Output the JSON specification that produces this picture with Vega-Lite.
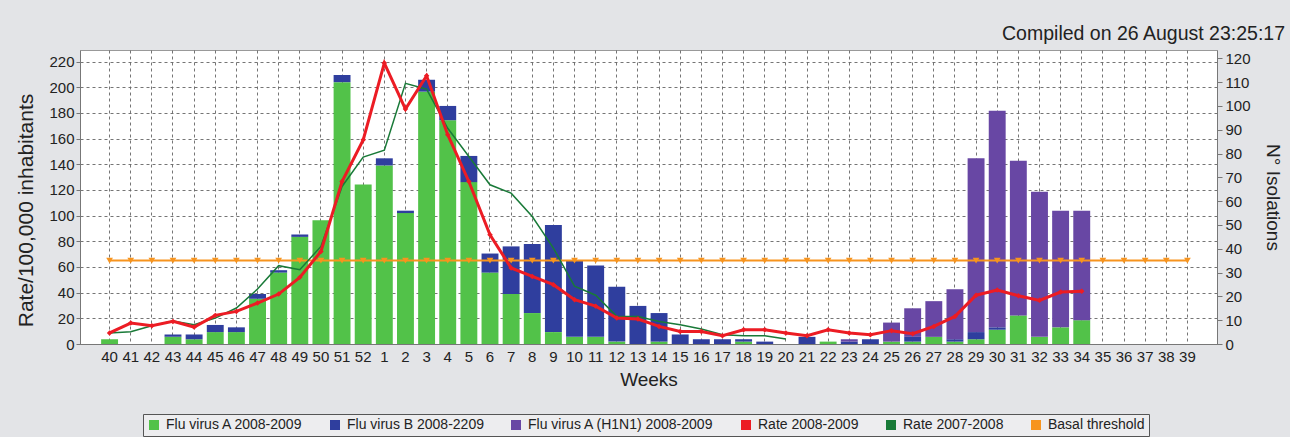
{
  "$schema": "https://vega.github.io/schema/vega-lite/v6.json",
  "width": 1137,
  "height": 294,
  "autosize": {"type": "none"},
  "padding": {"left": 80, "top": 50, "right": 73, "bottom": 93},
  "background": "#e3e4e7",
  "title": {"text": "Compiled on 26 August 23:25:17", "anchor": "end", "frame": "group", "dx": 68, "offset": 6, "fontSize": 19.5, "font": "Liberation Sans", "fontWeight": "normal", "color": "#222222"},
  "config": {
    "view": {"fill": "white", "stroke": "#999999"},
    "font": "Liberation Sans",
    "axis": {"labelFont": "Liberation Sans", "titleFont": "Liberation Sans", "labelFontSize": 15, "titleFontSize": 19, "titleFontWeight": "normal", "labelColor": "#222222", "titleColor": "#222222", "domainColor": "#777777", "tickColor": "#777777"}
  },
  "datasets": {
    "bars": [
      {"week": "40", "series": "Flu virus A 2008-2009", "isolations": 2},
      {"week": "43", "series": "Flu virus A 2008-2009", "isolations": 3},
      {"week": "43", "series": "Flu virus B 2008-2209", "isolations": 1},
      {"week": "44", "series": "Flu virus A 2008-2009", "isolations": 2},
      {"week": "44", "series": "Flu virus B 2008-2209", "isolations": 2},
      {"week": "45", "series": "Flu virus A 2008-2009", "isolations": 5},
      {"week": "45", "series": "Flu virus B 2008-2209", "isolations": 3},
      {"week": "46", "series": "Flu virus A 2008-2009", "isolations": 5},
      {"week": "46", "series": "Flu virus B 2008-2209", "isolations": 2},
      {"week": "47", "series": "Flu virus A 2008-2009", "isolations": 19},
      {"week": "47", "series": "Flu virus B 2008-2209", "isolations": 2},
      {"week": "48", "series": "Flu virus A 2008-2009", "isolations": 30},
      {"week": "48", "series": "Flu virus B 2008-2209", "isolations": 1},
      {"week": "49", "series": "Flu virus A 2008-2009", "isolations": 45},
      {"week": "49", "series": "Flu virus B 2008-2209", "isolations": 1},
      {"week": "50", "series": "Flu virus A 2008-2009", "isolations": 52},
      {"week": "51", "series": "Flu virus A 2008-2009", "isolations": 110},
      {"week": "51", "series": "Flu virus B 2008-2209", "isolations": 3},
      {"week": "52", "series": "Flu virus A 2008-2009", "isolations": 67},
      {"week": "1", "series": "Flu virus A 2008-2009", "isolations": 75},
      {"week": "1", "series": "Flu virus B 2008-2209", "isolations": 3},
      {"week": "2", "series": "Flu virus A 2008-2009", "isolations": 55},
      {"week": "2", "series": "Flu virus B 2008-2209", "isolations": 1},
      {"week": "3", "series": "Flu virus A 2008-2009", "isolations": 106},
      {"week": "3", "series": "Flu virus B 2008-2209", "isolations": 5},
      {"week": "4", "series": "Flu virus A 2008-2009", "isolations": 94},
      {"week": "4", "series": "Flu virus B 2008-2209", "isolations": 6},
      {"week": "5", "series": "Flu virus A 2008-2009", "isolations": 68},
      {"week": "5", "series": "Flu virus B 2008-2209", "isolations": 11},
      {"week": "6", "series": "Flu virus A 2008-2009", "isolations": 30},
      {"week": "6", "series": "Flu virus B 2008-2209", "isolations": 8},
      {"week": "7", "series": "Flu virus A 2008-2009", "isolations": 21},
      {"week": "7", "series": "Flu virus B 2008-2209", "isolations": 20},
      {"week": "8", "series": "Flu virus A 2008-2009", "isolations": 13},
      {"week": "8", "series": "Flu virus B 2008-2209", "isolations": 29},
      {"week": "9", "series": "Flu virus A 2008-2009", "isolations": 5},
      {"week": "9", "series": "Flu virus B 2008-2209", "isolations": 45},
      {"week": "10", "series": "Flu virus A 2008-2009", "isolations": 3},
      {"week": "10", "series": "Flu virus B 2008-2209", "isolations": 32},
      {"week": "11", "series": "Flu virus A 2008-2009", "isolations": 3},
      {"week": "11", "series": "Flu virus B 2008-2209", "isolations": 30},
      {"week": "12", "series": "Flu virus A 2008-2009", "isolations": 1},
      {"week": "12", "series": "Flu virus B 2008-2209", "isolations": 23},
      {"week": "13", "series": "Flu virus B 2008-2209", "isolations": 16},
      {"week": "14", "series": "Flu virus A 2008-2009", "isolations": 1},
      {"week": "14", "series": "Flu virus B 2008-2209", "isolations": 12},
      {"week": "15", "series": "Flu virus B 2008-2209", "isolations": 4},
      {"week": "16", "series": "Flu virus B 2008-2209", "isolations": 2},
      {"week": "17", "series": "Flu virus B 2008-2209", "isolations": 2},
      {"week": "18", "series": "Flu virus A 2008-2009", "isolations": 1},
      {"week": "18", "series": "Flu virus B 2008-2209", "isolations": 1},
      {"week": "19", "series": "Flu virus B 2008-2209", "isolations": 1},
      {"week": "21", "series": "Flu virus B 2008-2209", "isolations": 3},
      {"week": "22", "series": "Flu virus A 2008-2009", "isolations": 1},
      {"week": "23", "series": "Flu virus B 2008-2209", "isolations": 1},
      {"week": "23", "series": "Flu virus A (H1N1) 2008-2009", "isolations": 1},
      {"week": "24", "series": "Flu virus B 2008-2209", "isolations": 2},
      {"week": "25", "series": "Flu virus A 2008-2009", "isolations": 1},
      {"week": "25", "series": "Flu virus A (H1N1) 2008-2009", "isolations": 8},
      {"week": "26", "series": "Flu virus A 2008-2009", "isolations": 1},
      {"week": "26", "series": "Flu virus B 2008-2209", "isolations": 2},
      {"week": "26", "series": "Flu virus A (H1N1) 2008-2009", "isolations": 12},
      {"week": "27", "series": "Flu virus A 2008-2009", "isolations": 3},
      {"week": "27", "series": "Flu virus A (H1N1) 2008-2009", "isolations": 15},
      {"week": "28", "series": "Flu virus A 2008-2009", "isolations": 1},
      {"week": "28", "series": "Flu virus B 2008-2209", "isolations": 1},
      {"week": "28", "series": "Flu virus A (H1N1) 2008-2009", "isolations": 21},
      {"week": "29", "series": "Flu virus A 2008-2009", "isolations": 2},
      {"week": "29", "series": "Flu virus B 2008-2209", "isolations": 3},
      {"week": "29", "series": "Flu virus A (H1N1) 2008-2009", "isolations": 73},
      {"week": "30", "series": "Flu virus A 2008-2009", "isolations": 6},
      {"week": "30", "series": "Flu virus B 2008-2209", "isolations": 1},
      {"week": "30", "series": "Flu virus A (H1N1) 2008-2009", "isolations": 91},
      {"week": "31", "series": "Flu virus A 2008-2009", "isolations": 12},
      {"week": "31", "series": "Flu virus A (H1N1) 2008-2009", "isolations": 65},
      {"week": "32", "series": "Flu virus A 2008-2009", "isolations": 3},
      {"week": "32", "series": "Flu virus A (H1N1) 2008-2009", "isolations": 61},
      {"week": "33", "series": "Flu virus A 2008-2009", "isolations": 7},
      {"week": "33", "series": "Flu virus A (H1N1) 2008-2009", "isolations": 49},
      {"week": "34", "series": "Flu virus A 2008-2009", "isolations": 10},
      {"week": "34", "series": "Flu virus A (H1N1) 2008-2009", "isolations": 46}
    ],
    "rate0809": [
      {"week": "40", "series": "Rate 2008-2009", "rate": 8.6},
      {"week": "41", "series": "Rate 2008-2009", "rate": 16.3},
      {"week": "42", "series": "Rate 2008-2009", "rate": 14.2},
      {"week": "43", "series": "Rate 2008-2009", "rate": 17.6},
      {"week": "44", "series": "Rate 2008-2009", "rate": 13.2},
      {"week": "45", "series": "Rate 2008-2009", "rate": 22.3},
      {"week": "46", "series": "Rate 2008-2009", "rate": 25.4},
      {"week": "47", "series": "Rate 2008-2009", "rate": 31.9},
      {"week": "48", "series": "Rate 2008-2009", "rate": 38.9},
      {"week": "49", "series": "Rate 2008-2009", "rate": 51.9},
      {"week": "50", "series": "Rate 2008-2009", "rate": 72.1},
      {"week": "51", "series": "Rate 2008-2009", "rate": 126.6},
      {"week": "52", "series": "Rate 2008-2009", "rate": 159},
      {"week": "1", "series": "Rate 2008-2009", "rate": 218.8},
      {"week": "2", "series": "Rate 2008-2009", "rate": 183},
      {"week": "3", "series": "Rate 2008-2009", "rate": 208.9},
      {"week": "4", "series": "Rate 2008-2009", "rate": 163},
      {"week": "5", "series": "Rate 2008-2009", "rate": 126.6},
      {"week": "6", "series": "Rate 2008-2009", "rate": 85.1},
      {"week": "7", "series": "Rate 2008-2009", "rate": 59.2},
      {"week": "8", "series": "Rate 2008-2009", "rate": 52.6},
      {"week": "9", "series": "Rate 2008-2009", "rate": 46.2},
      {"week": "10", "series": "Rate 2008-2009", "rate": 34.5},
      {"week": "11", "series": "Rate 2008-2009", "rate": 29.5},
      {"week": "12", "series": "Rate 2008-2009", "rate": 20.2},
      {"week": "13", "series": "Rate 2008-2009", "rate": 19.5},
      {"week": "14", "series": "Rate 2008-2009", "rate": 13.7},
      {"week": "15", "series": "Rate 2008-2009", "rate": 9.8},
      {"week": "16", "series": "Rate 2008-2009", "rate": 9.8},
      {"week": "17", "series": "Rate 2008-2009", "rate": 6.5},
      {"week": "18", "series": "Rate 2008-2009", "rate": 11.1},
      {"week": "19", "series": "Rate 2008-2009", "rate": 11.1},
      {"week": "20", "series": "Rate 2008-2009", "rate": 8.6},
      {"week": "21", "series": "Rate 2008-2009", "rate": 6.5},
      {"week": "22", "series": "Rate 2008-2009", "rate": 11.1},
      {"week": "23", "series": "Rate 2008-2009", "rate": 8.6},
      {"week": "24", "series": "Rate 2008-2009", "rate": 7.2},
      {"week": "25", "series": "Rate 2008-2009", "rate": 10.4},
      {"week": "26", "series": "Rate 2008-2009", "rate": 8.0},
      {"week": "27", "series": "Rate 2008-2009", "rate": 13.7},
      {"week": "28", "series": "Rate 2008-2009", "rate": 21.5},
      {"week": "29", "series": "Rate 2008-2009", "rate": 38},
      {"week": "30", "series": "Rate 2008-2009", "rate": 42},
      {"week": "31", "series": "Rate 2008-2009", "rate": 37.6},
      {"week": "32", "series": "Rate 2008-2009", "rate": 34},
      {"week": "33", "series": "Rate 2008-2009", "rate": 40.5},
      {"week": "34", "series": "Rate 2008-2009", "rate": 41}
    ],
    "rate0708": [
      {"week": "40", "series": "Rate 2007-2008", "rate": 8.6},
      {"week": "41", "series": "Rate 2007-2008", "rate": 9.5},
      {"week": "42", "series": "Rate 2007-2008", "rate": 14.2},
      {"week": "43", "series": "Rate 2007-2008", "rate": 18},
      {"week": "44", "series": "Rate 2007-2008", "rate": 15},
      {"week": "45", "series": "Rate 2007-2008", "rate": 20.2},
      {"week": "46", "series": "Rate 2007-2008", "rate": 28},
      {"week": "47", "series": "Rate 2007-2008", "rate": 42.8},
      {"week": "48", "series": "Rate 2007-2008", "rate": 61},
      {"week": "49", "series": "Rate 2007-2008", "rate": 57.8},
      {"week": "50", "series": "Rate 2007-2008", "rate": 76},
      {"week": "51", "series": "Rate 2007-2008", "rate": 122.7},
      {"week": "52", "series": "Rate 2007-2008", "rate": 145.6},
      {"week": "1", "series": "Rate 2007-2008", "rate": 151},
      {"week": "2", "series": "Rate 2007-2008", "rate": 203},
      {"week": "3", "series": "Rate 2007-2008", "rate": 198.5},
      {"week": "4", "series": "Rate 2007-2008", "rate": 168},
      {"week": "5", "series": "Rate 2007-2008", "rate": 146},
      {"week": "6", "series": "Rate 2007-2008", "rate": 124},
      {"week": "7", "series": "Rate 2007-2008", "rate": 117.5},
      {"week": "8", "series": "Rate 2007-2008", "rate": 99.3},
      {"week": "9", "series": "Rate 2007-2008", "rate": 74.7},
      {"week": "10", "series": "Rate 2007-2008", "rate": 45},
      {"week": "11", "series": "Rate 2007-2008", "rate": 38},
      {"week": "12", "series": "Rate 2007-2008", "rate": 21.5},
      {"week": "13", "series": "Rate 2007-2008", "rate": 21.5},
      {"week": "14", "series": "Rate 2007-2008", "rate": 17.6},
      {"week": "15", "series": "Rate 2007-2008", "rate": 15},
      {"week": "16", "series": "Rate 2007-2008", "rate": 11.7},
      {"week": "17", "series": "Rate 2007-2008", "rate": 7.2},
      {"week": "18", "series": "Rate 2007-2008", "rate": 6.5},
      {"week": "19", "series": "Rate 2007-2008", "rate": 6.5},
      {"week": "20", "series": "Rate 2007-2008", "rate": 3.9}
    ],
    "threshold": [
      {"week": "40", "series": "Basal threshold", "rate": 65},
      {"week": "41", "series": "Basal threshold", "rate": 65},
      {"week": "42", "series": "Basal threshold", "rate": 65},
      {"week": "43", "series": "Basal threshold", "rate": 65},
      {"week": "44", "series": "Basal threshold", "rate": 65},
      {"week": "45", "series": "Basal threshold", "rate": 65},
      {"week": "46", "series": "Basal threshold", "rate": 65},
      {"week": "47", "series": "Basal threshold", "rate": 65},
      {"week": "48", "series": "Basal threshold", "rate": 65},
      {"week": "49", "series": "Basal threshold", "rate": 65},
      {"week": "50", "series": "Basal threshold", "rate": 65},
      {"week": "51", "series": "Basal threshold", "rate": 65},
      {"week": "52", "series": "Basal threshold", "rate": 65},
      {"week": "1", "series": "Basal threshold", "rate": 65},
      {"week": "2", "series": "Basal threshold", "rate": 65},
      {"week": "3", "series": "Basal threshold", "rate": 65},
      {"week": "4", "series": "Basal threshold", "rate": 65},
      {"week": "5", "series": "Basal threshold", "rate": 65},
      {"week": "6", "series": "Basal threshold", "rate": 65},
      {"week": "7", "series": "Basal threshold", "rate": 65},
      {"week": "8", "series": "Basal threshold", "rate": 65},
      {"week": "9", "series": "Basal threshold", "rate": 65},
      {"week": "10", "series": "Basal threshold", "rate": 65},
      {"week": "11", "series": "Basal threshold", "rate": 65},
      {"week": "12", "series": "Basal threshold", "rate": 65},
      {"week": "13", "series": "Basal threshold", "rate": 65},
      {"week": "14", "series": "Basal threshold", "rate": 65},
      {"week": "15", "series": "Basal threshold", "rate": 65},
      {"week": "16", "series": "Basal threshold", "rate": 65},
      {"week": "17", "series": "Basal threshold", "rate": 65},
      {"week": "18", "series": "Basal threshold", "rate": 65},
      {"week": "19", "series": "Basal threshold", "rate": 65},
      {"week": "20", "series": "Basal threshold", "rate": 65},
      {"week": "21", "series": "Basal threshold", "rate": 65},
      {"week": "22", "series": "Basal threshold", "rate": 65},
      {"week": "23", "series": "Basal threshold", "rate": 65},
      {"week": "24", "series": "Basal threshold", "rate": 65},
      {"week": "25", "series": "Basal threshold", "rate": 65},
      {"week": "26", "series": "Basal threshold", "rate": 65},
      {"week": "27", "series": "Basal threshold", "rate": 65},
      {"week": "28", "series": "Basal threshold", "rate": 65},
      {"week": "29", "series": "Basal threshold", "rate": 65},
      {"week": "30", "series": "Basal threshold", "rate": 65},
      {"week": "31", "series": "Basal threshold", "rate": 65},
      {"week": "32", "series": "Basal threshold", "rate": 65},
      {"week": "33", "series": "Basal threshold", "rate": 65},
      {"week": "34", "series": "Basal threshold", "rate": 65},
      {"week": "35", "series": "Basal threshold", "rate": 65},
      {"week": "36", "series": "Basal threshold", "rate": 65},
      {"week": "37", "series": "Basal threshold", "rate": 65},
      {"week": "38", "series": "Basal threshold", "rate": 65},
      {"week": "39", "series": "Basal threshold", "rate": 65}
    ]
  },
  "encoding": {
    "x": {
      "field": "week", "type": "ordinal",
      "scale": {"domain": ["40","41","42","43","44","45","46","47","48","49","50","51","52","1","2","3","4","5","6","7","8","9","10","11","12","13","14","15","16","17","18","19","20","21","22","23","24","25","26","27","28","29","30","31","32","33","34","35","36","37","38","39"], "paddingInner": 0.2, "paddingOuter": 2.78},
      "axis": {"title": "Weeks", "labelAngle": 0, "labelOverlap": false, "ticks": false, "labelPadding": 5, "titlePadding": 6, "grid": true, "gridDash": [3, 3], "gridColor": "#666666", "gridOpacity": 0.9}
    },
    "color": {
      "field": "series", "type": "nominal",
      "scale": {"domain": ["Flu virus A 2008-2009", "Flu virus B 2008-2209", "Flu virus A (H1N1) 2008-2009", "Rate 2008-2009", "Rate 2007-2008", "Basal threshold"], "range": ["#52c249", "#2f3e9e", "#6847a4", "#ec1c24", "#197a38", "#f7941e"]},
      "legend": {"title": null, "orient": "none", "legendX": 63, "legendY": 364, "direction": "horizontal", "columns": 6, "symbolType": "square", "symbolSize": 100, "symbolStrokeWidth": 0, "labelFontSize": 14, "labelFont": "Liberation Sans", "labelLimit": 400, "labelColor": "#222222", "labelOffset": 5, "columnPadding": 25, "padding": 4, "strokeColor": "#555555", "fillColor": "#ededef",
        "encode": {"symbols": {"update": {"fill": {"scale": "color", "field": "value"}, "stroke": {"value": "transparent"}, "opacity": {"value": 1}}}}}
    }
  },
  "layer": [
    {
      "data": {"name": "bars"},
      "transform": [{"calculate": "indexof(['Flu virus A 2008-2009', 'Flu virus B 2008-2209', 'Flu virus A (H1N1) 2008-2009'], datum.series)", "as": "stackOrder"}],
      "mark": {"type": "bar"},
      "encoding": {
        "y": {"field": "isolations", "type": "quantitative", "stack": "zero", "scale": {"domain": [0, 123.5], "nice": false}, "axis": {"orient": "right", "title": "N° Isolations", "values": [0,10,20,30,40,50,60,70,80,90,100,110,120], "grid": false, "tickSize": 5, "labelPadding": 3, "titlePadding": 12, "titleAngle": 90}},
        "order": {"field": "stackOrder", "type": "quantitative", "sort": "ascending"}
      }
    },
    {
      "encoding": {
        "y": {"field": "rate", "type": "quantitative", "scale": {"domain": [0, 229], "nice": false}, "axis": {"orient": "left", "title": "Rate/100,000 inhabitants", "titleFontSize": 21, "titleY": 160, "values": [0,20,40,60,80,100,120,140,160,180,200,220], "grid": true, "gridDash": [3, 3], "gridColor": "#666666", "gridOpacity": 0.9, "tickSize": 4, "labelPadding": 2, "titlePadding": 12}}
      },
      "layer": [
        {"data": {"name": "threshold"}, "mark": {"type": "line", "strokeWidth": 2, "point": {"shape": "triangle-down", "size": 45, "filled": true}}},
        {"data": {"name": "rate0708"}, "mark": {"type": "line", "strokeWidth": 1.5}},
        {"data": {"name": "rate0809"}, "mark": {"type": "line", "strokeWidth": 3, "point": {"shape": "diamond", "size": 30, "filled": true}}}
      ]
    }
  ],
  "resolve": {"scale": {"y": "independent"}}
}
